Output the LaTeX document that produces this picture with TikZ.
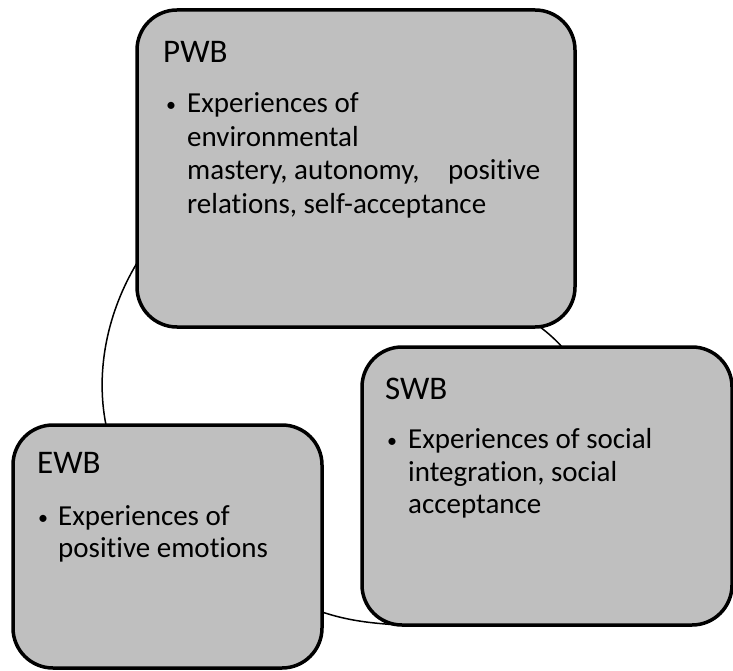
\documentclass[tikz,border=0pt]{standalone}
\usepackage{fontspec}
\setmainfont{Carlito}[Ligatures=NoCommon]
\usetikzlibrary{calc}
\definecolor{boxgray}{RGB}{191,191,191}
\begin{document}
\begin{tikzpicture}[x=1pt,y=-1pt,
  box/.style={draw=black, line width=3.5pt, fill=boxgray, rectangle, rounded corners=40pt, outer sep=0pt, inner sep=0pt},
  title/.style={font=\fontsize{33}{40}\selectfont, anchor=base west, inner sep=0pt},
  body/.style={font=\fontsize{29}{33}\selectfont, anchor=base west, inner sep=0pt},
  bul/.style={font=\fontsize{20}{24}\selectfont, anchor=base west, inner sep=0pt},
  link/.style={draw=black, line width=1.5pt}]
\useasboundingbox (0,0) rectangle (733,671);
% boxes
\node[box, minimum width=438pt, minimum height=317pt] (pwb) at (356,168.5) {};
\node[box, minimum width=370pt, minimum height=278pt] (swb) at (547,486) {};
\node[box, minimum width=309pt, minimum height=243pt] (ewb) at (167.5,546.5) {};
% cycle arcs
\draw[link] ($(pwb.south west)+(0,-64)$) .. controls +(-29,48) and +(-11,-55) .. ($(ewb.north west)+(93,0)$);
\draw[link] ($(ewb.south east)+(0,-56)$) .. controls +(27,9) and +(-27,-2) .. ($(swb.south west)+(36,0)$);
\draw[link] ($(pwb.south east)+(-35,0)$) .. controls +(7,5) and +(-5,-6) .. ($(swb.north west)+(200,0)$);
% PWB text
\node[title] (pwbt) at (163,63) {PWB};
\node[bul] (pwbb) at (166,112) {•};
\node[body] (pwb1) at (187,113) {Experiences of};
\node[body] (pwb2) at (187,147) {environmental};
\node[body] (pwb3) at (187,180) {\makebox[353pt][s]{mastery, autonomy,\hfill positive}};
\node[body] (pwb4) at (187,213) {relations, self-acceptance};
% SWB text
\node[title] (swbt) at (385,399) {SWB};
\node[bul] (swbb) at (387,447) {•};
\node[body] (swb1) at (408,448) {Experiences of social};
\node[body] (swb2) at (408,481) {integration, social};
\node[body] (swb3) at (408,513) {acceptance};
% EWB text
\node[title] (ewbt) at (37,473) {EWB};
\node[bul] (ewbb) at (38,524) {•};
\node[body] (ewb1) at (58,525) {Experiences of};
\node[body] (ewb2) at (58,557) {positive emotions};
\end{tikzpicture}
\end{document}
